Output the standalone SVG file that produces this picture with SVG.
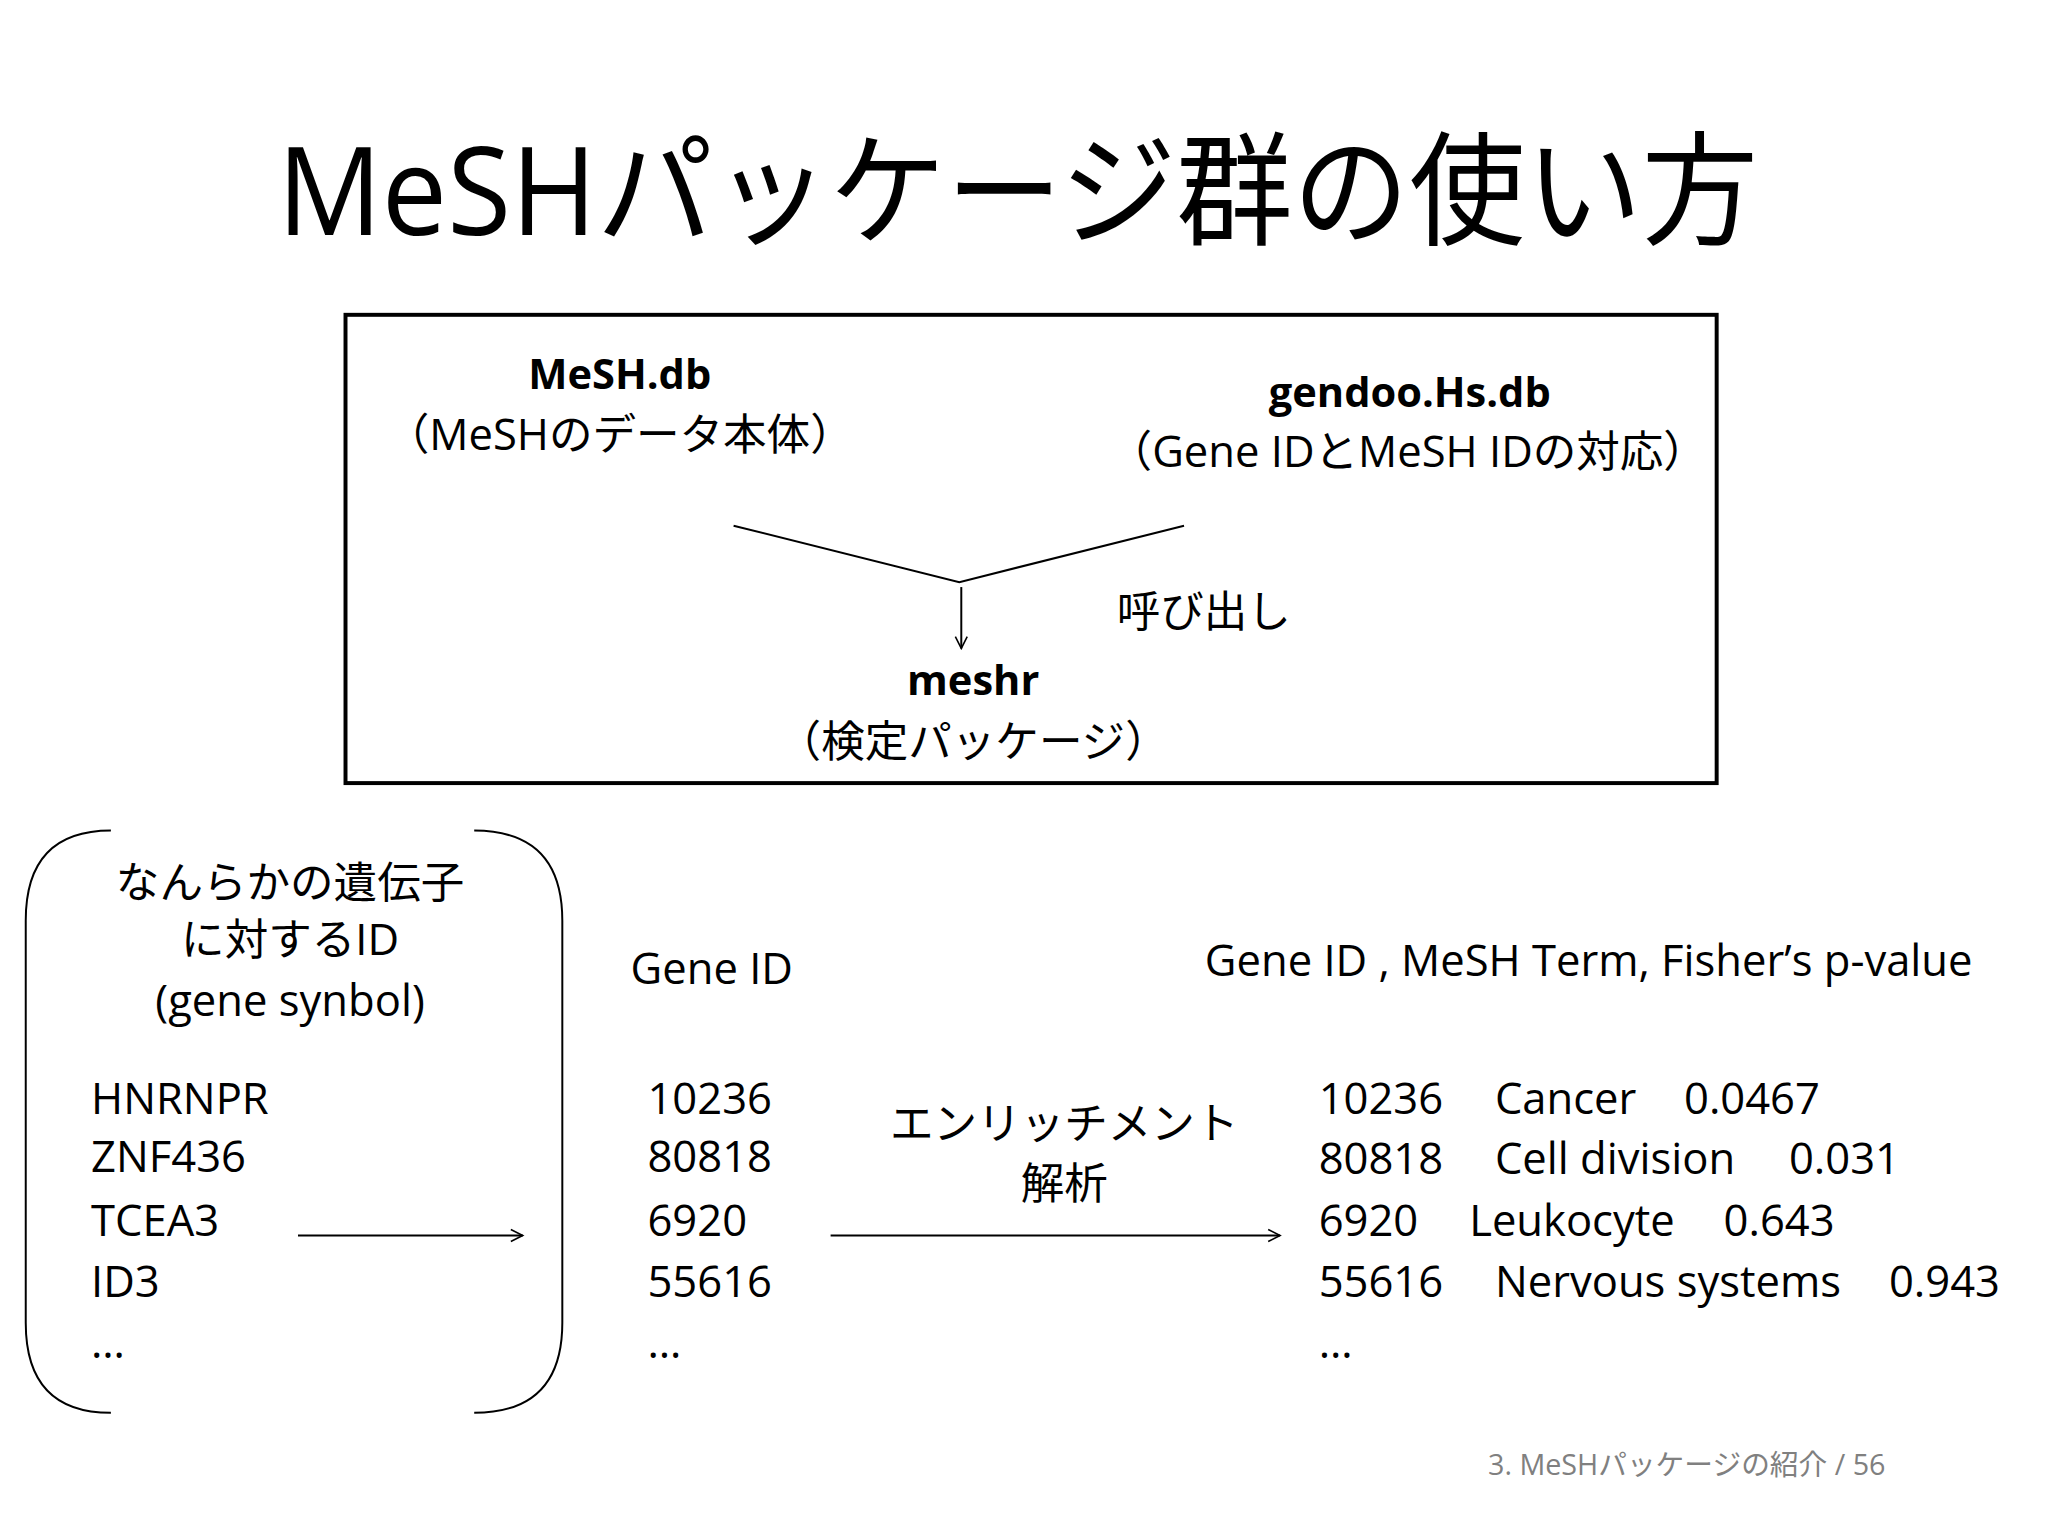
<svg xmlns="http://www.w3.org/2000/svg" width="2048" height="1536" viewBox="0 0 2048 1536">
<defs>
<marker id="ah" markerWidth="16" markerHeight="16" refX="14" refY="8" orient="auto" markerUnits="userSpaceOnUse"><path d="M2,2 L14,8 L2,14" fill="none" stroke="#000" stroke-width="1.6"/></marker>
</defs>
<style>
text{font-family:"Open Sans","Noto Sans CJK JP",sans-serif;fill:#000}
.m{font-size:44px}
.b{font-size:42px;font-weight:bold}
.c{text-anchor:middle}
.ln{fill:none;stroke:#000;stroke-width:2}
</style>
<rect width="2048" height="1536" fill="#fff"/>
<g transform="scale(0.99)">
<text x="280" y="237" font-size="124" textLength="1496" lengthAdjust="spacingAndGlyphs">MeSHパッケージ群の使い方</text>
<g id="box"><rect x="349" y="318" width="1385" height="473" fill="none" stroke="#000" stroke-width="4"/></g>
<g id="meshdb"><text class="b c" x="626" y="393">MeSH.db</text><text class="m c" x="626" y="455">（MeSHのデータ本体）</text></g>
<g id="gendoo"><text class="b c" x="1424" y="411">gendoo.Hs.db</text><text class="m c" x="1422" y="472">（Gene IDとMeSH IDの対応）</text></g>
<g id="meshr"><text class="b c" x="983" y="702">meshr</text><text class="m c" x="983" y="765">（検定パッケージ）</text></g>
<g id="connectors">
<path class="ln" d="M741,531 L969,588 L1196,531"/>
<line class="ln" x1="971" y1="593" x2="971" y2="655" marker-end="url(#ah)"/>
<line class="ln" x1="301" y1="1248" x2="528" y2="1248" marker-end="url(#ah)"/>
<line class="ln" x1="839" y1="1248" x2="1293" y2="1248" marker-end="url(#ah)"/>
</g>
<text class="m" x="1128" y="633">呼び出し</text>
<g id="input">
<path class="ln" d="M112,839 Q26,839 26,930 L26,1336 Q26,1427 112,1427"/>
<path class="ln" d="M479,839 Q568,839 568,930 L568,1336 Q568,1427 479,1427"/>
<text class="m c" x="293" y="907">なんらかの遺伝子</text>
<text class="m c" x="293" y="965">に対するID</text>
<text class="m c" x="293" y="1026">(gene synbol)</text>
<text class="m" x="92" y="1125">HNRNPR</text>
<text class="m" x="92" y="1184">ZNF436</text>
<text class="m" x="92" y="1248">TCEA3</text>
<text class="m" x="92" y="1310">ID3</text>
<text class="m" x="92" y="1372">…</text>
</g>
<g id="geneid">
<text class="m" x="637" y="994">Gene ID</text>
<text class="m" x="654" y="1125">10236</text>
<text class="m" x="654" y="1184">80818</text>
<text class="m" x="654" y="1248">6920</text>
<text class="m" x="654" y="1310">55616</text>
<text class="m" x="654" y="1372">…</text>
</g>
<text class="m c" x="1075" y="1151">エンリッチメント</text>
<text class="m c" x="1075" y="1211">解析</text>
<g id="result">
<text class="m" x="1217" y="986">Gene ID , MeSH Term, Fisher’s p-value</text>
<text class="m" y="1125"><tspan x="1332">10236</tspan><tspan x="1510">Cancer</tspan><tspan x="1701">0.0467</tspan></text>
<text class="m" y="1186"><tspan x="1332">80818</tspan><tspan x="1510">Cell division</tspan><tspan x="1807">0.031</tspan></text>
<text class="m" y="1248"><tspan x="1332">6920</tspan><tspan x="1484">Leukocyte</tspan><tspan x="1741">0.643</tspan></text>
<text class="m" y="1310"><tspan x="1332">55616</tspan><tspan x="1510">Nervous systems</tspan><tspan x="1908">0.943</tspan></text>
<text class="m" x="1332" y="1372">…</text>
</g>
<text x="1503" y="1490" font-size="29" style="fill:#808080">3. MeSHパッケージの紹介 / 56</text>
</g>
</svg>
